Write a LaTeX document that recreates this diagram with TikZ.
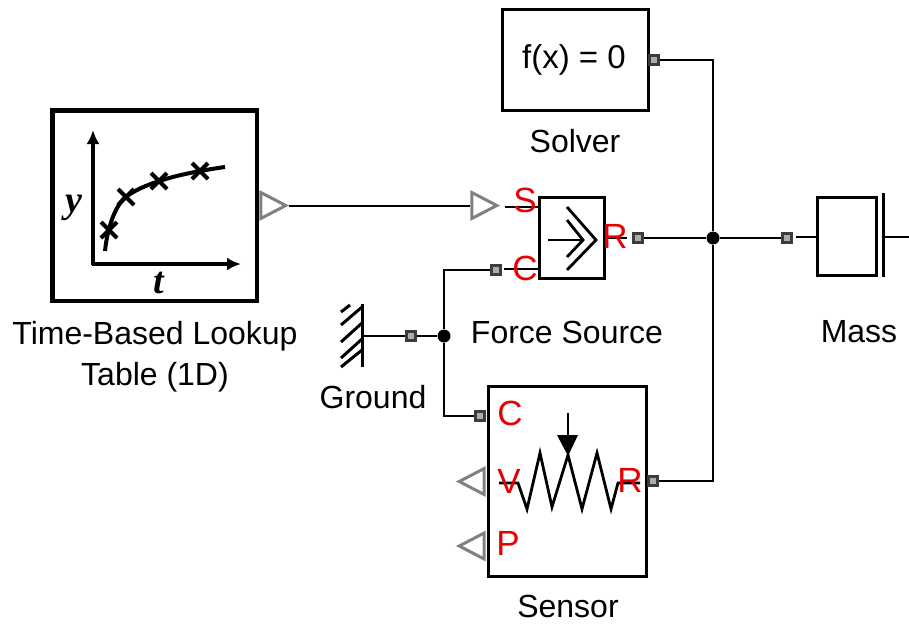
\documentclass[tikz,border=0pt]{standalone}
\usepackage{fontspec}
\setmainfont{Liberation Sans}
\newfontfamily\axisfont{Liberation Serif}
\usetikzlibrary{arrows.meta,calc,positioning,shapes.geometric}
\definecolor{portred}{RGB}{230,0,0}
\definecolor{portgray}{RGB}{60,60,60}

\begin{document}
\begin{tikzpicture}[
      x=1pt, y=-1pt,
      blockbox/.style={draw=black, line width=3pt, fill=white, inner sep=0pt, anchor=north west},
      wire/.style={line width=2pt},
      thick wire/.style={line width=2.8pt},
      conport/.style={rectangle, draw=portgray, fill=gray!65, line width=2.2pt, minimum size=9pt, inner sep=0pt},
      sigport/.style={isosceles triangle, isosceles triangle apex angle=56, isosceles triangle stretches, draw=portgray!65, fill=white, line width=3pt, minimum width=26pt, minimum height=25pt, inner sep=0pt, anchor=apex},
      junction/.style={circle, fill=black, minimum size=13pt, inner sep=0pt},
      caption/.style={font=\fontsize{32}{41}\selectfont, align=center, inner sep=0pt},
      letter/.style={text=portred, font=\fontsize{35}{35}\selectfont, inner sep=0pt}
    ]
      \useasboundingbox (0,0) rectangle (909,624);

      % blocks
      \node[blockbox, line width=4.5pt, minimum width=204.5pt, minimum height=190.5pt] (lookup) at (50,108) {};
      \node[blockbox, minimum width=146pt, minimum height=101pt] (solver) at (501,8) {};
      \node[blockbox, minimum width=65pt, minimum height=81pt] (force) at (538,196) {};
      \node[blockbox, minimum width=59pt, minimum height=78pt] (mass) at (816,196) {};
      \node[blockbox, minimum width=158pt, minimum height=190pt] (sensor) at (487,385) {};

      \node[font=\fontsize{33}{33}\selectfont, inner sep=0pt] (solvertext) at (574,60) {f(x) = 0};

      % captions
      \node[caption] (lookuplabel) at (155,357) {Time-Based Lookup\\Table (1D)};
      \node[caption] (solverlabel) at (575,141) {Solver};
      \node[caption] (forcelabel) at (567,332) {Force Source};
      \node[caption] (masslabel) at (859,332) {Mass};
      \node[caption] (groundlabel) at (373,397) {Ground};
      \node[caption] (sensorlabel) at (568,606) {Sensor};

      % ports
      \node[sigport] (lookupout) at (289,205.5) {};
      \node[sigport] (forcein) at (500,205.5) {};
      \node[sigport, shape border rotate=180] (sensorv) at (456,481.5) {};
      \node[sigport, shape border rotate=180] (sensorp) at (456,546) {};
      \node[conport] (forcec) at (496,270) {};
      \node[conport] (forcer) at (638,238) {};
      \node[conport] (solverport) at (654,60) {};
      \node[conport] (massport) at (787,238) {};
      \node[conport] (groundport) at (411,336) {};
      \node[conport] (sensorc) at (480,416) {};
      \node[conport] (sensorr) at (653,481) {};

      \node[junction] (midjoin) at (713,238) {};
      \node[junction] (groundjoin) at (444,336) {};

      % connectors
      \draw[wire] (lookupout.apex) -- (forcein.west);
      \draw[wire] (solverport.east) -- (solverport.east -| midjoin) -- (midjoin);
      \draw[wire] (forcer.east) -- (midjoin) -- (massport.west);
      \draw[wire] (sensorr.east) -- (sensorr.east -| midjoin) -- (midjoin);
      \draw[wire] (groundport.east) -- (groundjoin);
      \draw[wire] (forcec.west) -- (forcec.west -| groundjoin) -- (groundjoin);
      \draw[wire] (groundjoin) -- (groundjoin |- sensorc.west) -- (sensorc.west);

      % stubs on the block edges
      \coordinate (groundwall) at (362,336);
      \draw[thick wire] (505,207) -- (force.west |- 0,207);
      \draw[thick wire] (504,269) -- (force.west |- 0,269);
      \draw[thick wire] (force.east |- 0,238) -- (627,238);
      \draw[thick wire] (796,237) -- (mass.west |- 0,237);
      \draw[thick wire] (885,237) -- (909,237);
      \draw[thick wire] (groundwall) -- (groundport.west);

      % force source symbol
      \draw[thick wire] (548,240) -- (583,240);
      \draw[thick wire] (567,220) -- (583,240) -- (567,257);
      \draw[thick wire] (567,207) -- (596,240) -- (567,270);

      % mass plate
      \draw[line width=3pt] (883,193) -- (883,277);

      % ground hatching
      \draw[line width=3pt] (362,304) -- (362,367);
      \draw[line width=3pt] (350,305) -- (341,312);
      \foreach \ya/\yb in {307/325, 323/342, 339/358, 350/367}
        \draw[line width=3pt] (362,\ya) -- (341,\yb);

      % lookup plot
      \draw[line width=3.5pt, -{Latex[length=14pt,width=13pt]}] (93,265) -- (93,130);
      \draw[line width=3.5pt, -{Latex[length=14pt,width=13pt]}] (92,264) -- (241,264);
      \draw[line width=4pt] (105,251) .. controls (108,222) and (118,202) .. (127,196) .. controls (150,180) and (190,172) .. (225,167);
      \foreach \px/\py in {109/230, 126/197, 159/181, 200/171}
        \draw[line width=4pt] (\px-8,\py-8) -- (\px+8,\py+8) (\px-8,\py+8) -- (\px+8,\py-8);
      \node[font=\axisfont\bfseries\itshape\fontsize{38}{38}\selectfont, inner sep=0pt] (ylabel) at (74,208) {y};
      \node[font=\axisfont\bfseries\itshape\fontsize{38}{38}\selectfont, inner sep=0pt] (tlabel) at (159,283) {t};

      % sensor symbol
      \draw[thick wire] (499,483) -- (518,483) -- (527,509) -- (540,453) -- (552,507) -- (568,455) -- (582,509) -- (597,453) -- (611,509) -- (618,483) -- (640,483);
      \draw[thick wire] (568,413) -- (568,440);
      \fill (557,435) -- (578,435) -- (568,456) -- cycle;

      % port letters
      \node[letter] (forces) at (525,200) {S};
      \node[letter] (forcecl) at (525,268) {C};
      \node[letter] (forcerl) at (615,236) {R};
      \node[letter] (sensorcl) at (510,413) {C};
      \node[letter] (sensorvl) at (509,481) {V};
      \node[letter] (sensorrl) at (630,480) {R};
      \node[letter] (sensorpl) at (508,543) {P};
    \end{tikzpicture}
\end{document}
